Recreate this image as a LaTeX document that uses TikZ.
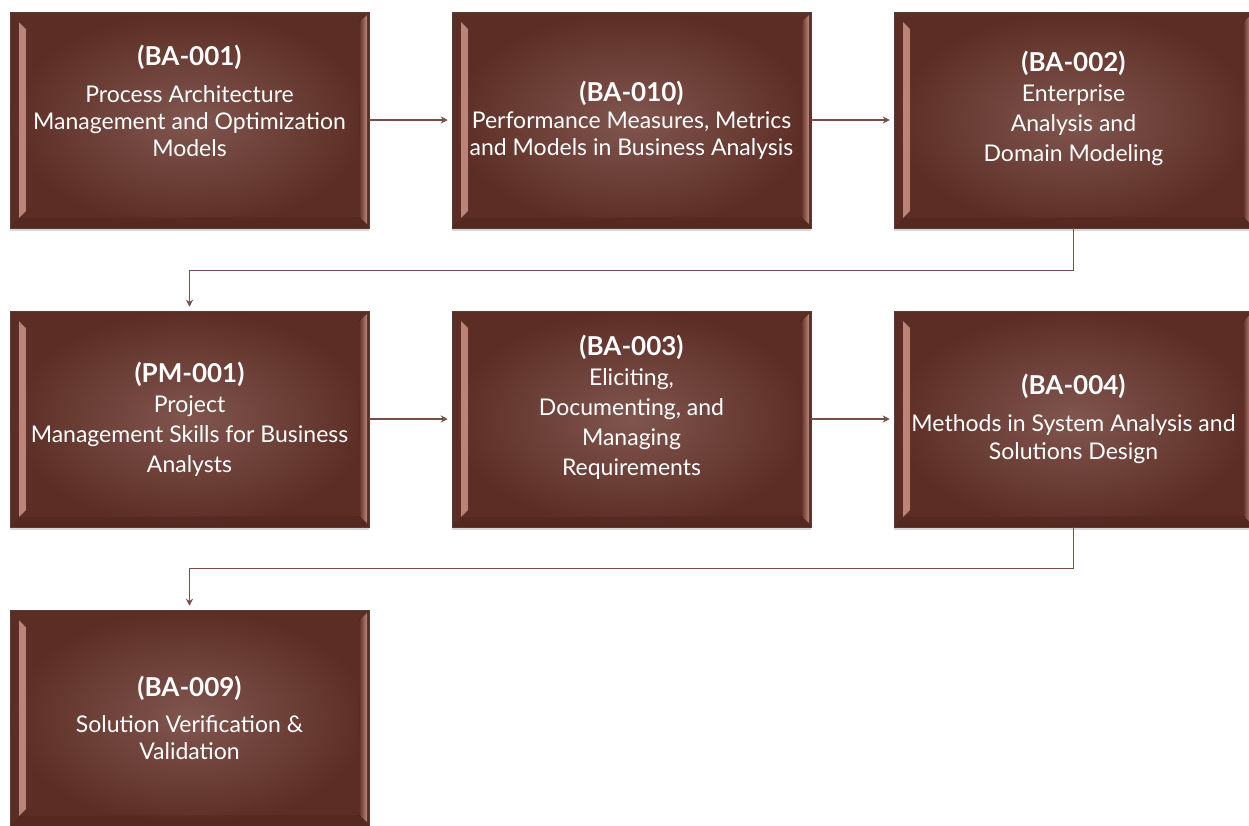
\documentclass[tikz,border=0pt]{standalone}
\usepackage{fontspec}
\setmainfont{Lato}
\usetikzlibrary{shadows,arrows.meta}

\definecolor{facelight}{RGB}{128,86,78}
\definecolor{facedark}{RGB}{92,45,37}
\definecolor{bevlight}{RGB}{190,135,122}
\definecolor{bevdark}{RGB}{72,31,24}
\definecolor{linkcol}{RGB}{122,78,70}
\definecolor{rimcol}{RGB}{85,60,55}

\newcommand{\code}[1]{{\fontsize{26}{27}\selectfont\bfseries #1}}

\tikzset{
  course/.style={rectangle, minimum width=359pt, minimum height=216pt, inner sep=0pt,
    draw=rimcol, line width=0.5pt, inner color=facelight, outer color=facedark,
    drop shadow={opacity=0.3, shadow xshift=0pt, shadow yshift=-3pt},
    path picture={
      % left bevel
      \fill[left color=bevlight, right color=facedark]
        ([xshift=9pt,yshift=-10pt]path picture bounding box.north west)
        -- ([xshift=16pt,yshift=-17pt]path picture bounding box.north west)
        -- ([xshift=16pt,yshift=17pt]path picture bounding box.south west)
        -- ([xshift=9pt,yshift=10pt]path picture bounding box.south west) -- cycle;
      % right bevel
      \fill[left color=facedark, right color=bevlight]
        ([xshift=-10pt,yshift=-10pt]path picture bounding box.north east)
        -- ([xshift=-2pt,yshift=-3pt]path picture bounding box.north east)
        -- ([xshift=-2pt,yshift=4pt]path picture bounding box.south east)
        -- ([xshift=-10pt,yshift=11pt]path picture bounding box.south east) -- cycle;
      % bottom bevel
      \fill[bevdark, opacity=0.35]
        (path picture bounding box.south west)
        -- ([xshift=9pt,yshift=10pt]path picture bounding box.south west)
        -- ([xshift=-10pt,yshift=11pt]path picture bounding box.south east)
        -- (path picture bounding box.south east) -- cycle;
    }},
  coursetext/.style={align=center, text=white, font=\fontsize{23}{27}\selectfont},
  link/.style={draw=linkcol, line width=1.3pt, -{Stealth[length=7pt,width=7pt]}, shorten >=4pt}
}

\begin{document}
\begin{tikzpicture}[x=1pt,y=-1pt]
    \useasboundingbox[fill=white] (0,0) rectangle (1249,825);

    \node[course] (b1) at (189.5,120) {};
    \node[course] (b2) at (631.5,120) {};
    \node[course] (b3) at (1073.5,120) {};
    \node[course] (b4) at (189.5,419) {};
    \node[course] (b5) at (631.5,419) {};
    \node[course] (b6) at (1073.5,419) {};
    \node[course] (b7) at (189.5,718) {};

    \node[coursetext] (t1) at ([yshift=19pt]b1.center) {\code{(BA-001)}\\[10pt]Process Architecture\\Management and Optimization\\Models};
    \node[coursetext] (t2) at (b2.center) {\code{(BA-010)}\\Performance Measures, Metrics\\and Models in Business Analysis};
    \node[coursetext, font=\fontsize{23}{30}\selectfont] (t3) at ([yshift=12pt]b3.center) {\code{(BA-002)}\\Enterprise\\Analysis and\\Domain Modeling};
    \node[coursetext, font=\fontsize{23}{30}\selectfont] (t4) at (b4.center) {\code{(PM-001)}\\Project\\Management Skills for Business\\Analysts};
    \node[coursetext, font=\fontsize{23}{30}\selectfont] (t5) at ([yshift=12pt]b5.center) {\code{(BA-003)}\\Eliciting,\\Documenting, and\\Managing\\Requirements};
    \node[coursetext] (t6) at (b6.center) {\code{(BA-004)}\\[10pt]Methods in System Analysis and\\[1pt]Solutions Design};
    \node[coursetext] (t7) at (b7.center) {\code{(BA-009)}\\[9pt]Solution Verification \&\\Validation};

    \draw[link] (b1) -- (b2);
    \draw[link] (b2) -- (b3);
    \draw[link] (b3.south) -- ++(0,42) -| (b4.north);
    \draw[link] (b4) -- (b5);
    \draw[link] (b5) -- (b6);
    \draw[link] (b6.south) -- ++(0,41) -| (b7.north);
\end{tikzpicture}
\end{document}
